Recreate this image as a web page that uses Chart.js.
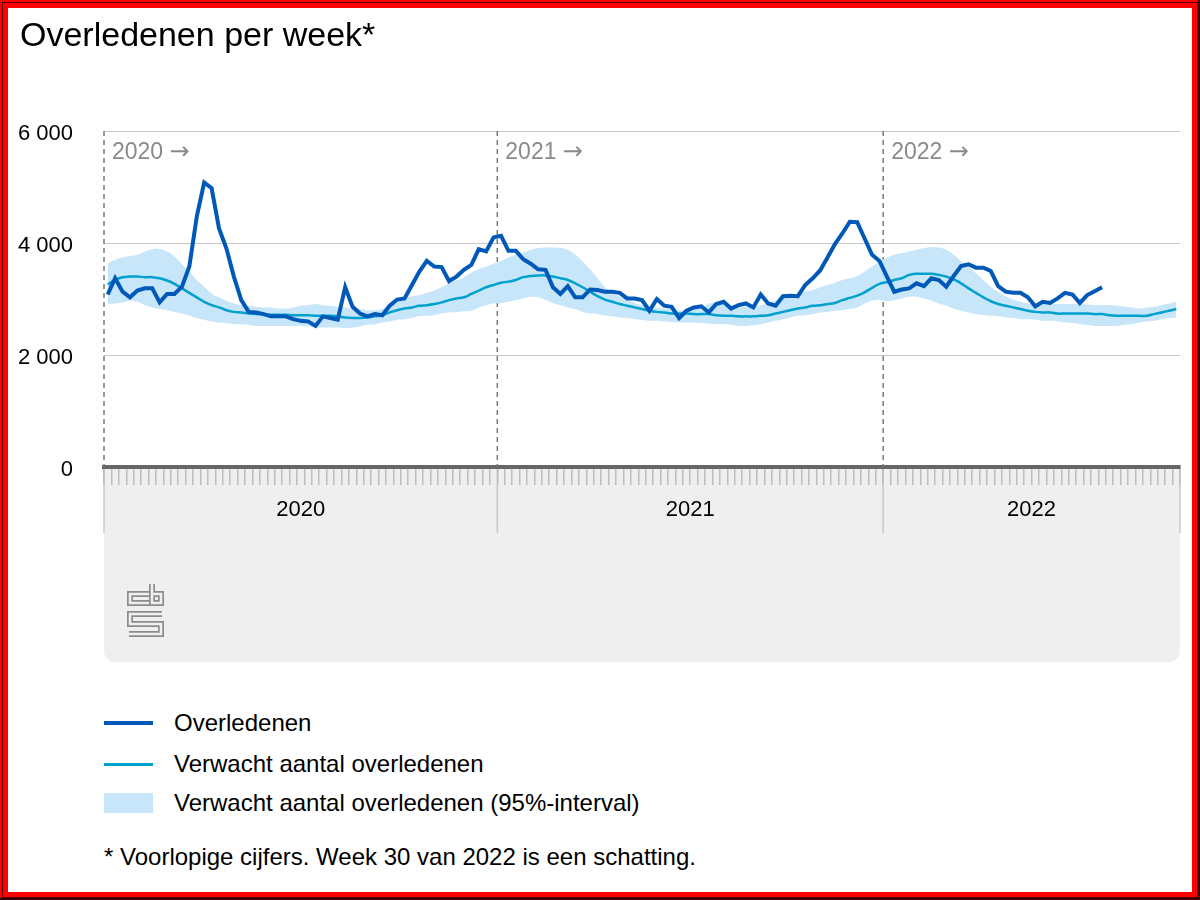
<!DOCTYPE html>
<html>
<head>
<meta charset="utf-8">
<script src="https://cdn.jsdelivr.net/npm/chart.js@4/dist/chart.umd.min.js"></script>
<style>
  body { margin: 0; background: #fff; font-family: "Liberation Sans", Arial, sans-serif; color: #000; }
  #frame {
    position: relative; width: 1200px; height: 900px; overflow: hidden;
    box-shadow: inset -2px -2px 0 0 #3a0000, inset 0 0 0 2px #f00, inset 0 0 0 3px #500, inset 0 0 0 8px #f00;
  }
  #chart { position: absolute; left: 0; top: 0; }
  .title { position: absolute; left: 20px; top: 14px; font-size: 34px; line-height: 40px; white-space: nowrap; }
  .row { position: absolute; left: 104px; height: 40px; display: flex; align-items: center; font-size: 24px; white-space: nowrap; }
  .swatch { width: 49px; margin-right: 21px; }
  .note { position: absolute; left: 104px; top: 837px; font-size: 24px; line-height: 40px; white-space: nowrap; }
</style>
</head>
<body>
<div id="frame">
  <canvas id="chart" width="1200" height="700"></canvas>
  <div class="title">Overledenen per week*</div>
  <div class="row" style="top:703px"><span class="swatch" style="height:4px;background:#0058b8"></span>Overledenen</div>
  <div class="row" style="top:744px"><span class="swatch" style="height:3px;background:#00a1cd"></span>Verwacht aantal overledenen</div>
  <div class="row" style="top:783px"><span class="swatch" style="height:20px;background:#c7e6fa"></span>Verwacht aantal overledenen (95%-interval)</div>
  <div class="note">* Voorlopige cijfers. Week 30 van 2022 is een schatting.</div>
</div>
<script>
// weeks shown per year (2020 has 53 weeks, 2022 runs to week 40)
const years = ['2020', '2021', '2022'];
const weeksPerYear = [53, 52, 40];

// Overledenen (up to 2022 week 30)
const deaths = [
  3080, 3370, 3130, 3030, 3150, 3190, 3190, 2940, 3090, 3090, 3220, 3580, 4470, 5080, 4980, 4260, 3900, 3400, 2980, 2770, 2760, 2730, 2690, 2690, 2690, 2640, 2610,
  2600, 2520, 2690, 2660, 2630, 3210, 2860, 2740, 2690, 2730, 2710, 2880, 2990, 3010, 3250, 3490, 3680, 3580, 3570, 3320, 3400, 3520, 3610, 3890, 3850, 4100, 4130,
  3860, 3860, 3710, 3630, 3530, 3520, 3210, 3090, 3230, 3030, 3030, 3170, 3160, 3130, 3130, 3110, 3010, 3010, 2980, 2790, 3000, 2880, 2860, 2660, 2790, 2850, 2870,
  2760, 2910, 2950, 2830, 2890, 2920, 2850, 3080, 2920, 2880, 3050, 3060, 3050, 3250, 3370, 3510, 3740, 3980, 4170, 4380, 4370, 4080, 3790, 3680,
  3400, 3130, 3170, 3190, 3280, 3230, 3370, 3340, 3220, 3410, 3590, 3620, 3560, 3560, 3500, 3230, 3130, 3110, 3110, 3030, 2870, 2950, 2930, 3010, 3110, 3080, 2930, 3070, 3140, 3210
];

// Verwacht aantal overledenen
const expected = [
  3260, 3340, 3390, 3400, 3400, 3390, 3390, 3370, 3330, 3270, 3190, 3110, 3030, 2950, 2890, 2850, 2800, 2770, 2760, 2740, 2730, 2730, 2720, 2720, 2720, 2710, 2710,
  2710, 2700, 2700, 2700, 2690, 2670, 2660, 2660, 2670, 2690, 2710, 2760, 2800, 2830, 2850, 2880, 2890, 2910, 2940, 2980, 3010, 3030, 3090, 3150, 3210, 3250, 3290,
  3310, 3340, 3390, 3410, 3420, 3420, 3400, 3370, 3340, 3280, 3210, 3130, 3050, 2990, 2950, 2910, 2880, 2850, 2820, 2790, 2770, 2760, 2740, 2740, 2740, 2730, 2730,
  2730, 2710, 2700, 2700, 2690, 2690, 2690, 2700, 2710, 2740, 2770, 2800, 2830, 2850, 2880, 2890, 2910, 2930, 2980, 3020, 3060, 3120, 3200, 3270,
  3300, 3340, 3370, 3430, 3450, 3450, 3450, 3430, 3400, 3350, 3280, 3190, 3110, 3030, 2960, 2910, 2880, 2850, 2820, 2790, 2770, 2760, 2760, 2740, 2740, 2740, 2740, 2740, 2730, 2730,
  2710, 2700, 2700, 2700, 2700, 2700, 2730, 2760, 2790, 2820
];

// 95%-interval, upper and lower bound
const upper = [
  3630, 3700, 3740, 3770, 3790, 3850, 3890, 3890, 3850, 3760, 3620, 3490, 3340, 3220, 3100, 3030, 2970, 2920, 2890, 2880, 2860, 2850, 2850, 2830, 2830, 2850, 2880,
  2890, 2910, 2890, 2880, 2860, 2850, 2830, 2820, 2800, 2800, 2820, 2890, 2950, 3010, 3050, 3070, 3110, 3150, 3210, 3280, 3330, 3390, 3470, 3530, 3580, 3630, 3680,
  3740, 3790, 3830, 3880, 3910, 3920, 3920, 3910, 3880, 3790, 3670, 3530, 3370, 3210, 3110, 3040, 2980, 2930, 2890, 2860, 2850, 2830, 2820, 2800, 2800, 2830, 2850,
  2920, 2930, 2930, 2890, 2880, 2860, 2860, 2890, 2930, 2970, 3010, 3050, 3100, 3130, 3160, 3210, 3250, 3290, 3340, 3370, 3410, 3490, 3580, 3670,
  3740, 3790, 3820, 3850, 3880, 3910, 3930, 3920, 3880, 3790, 3680, 3580, 3460, 3340, 3220, 3130, 3050, 2990, 2950, 2920, 2910, 2910, 2910, 2910, 2910, 2910, 2910, 2900, 2890, 2890,
  2890, 2880, 2860, 2850, 2830, 2850, 2860, 2890, 2920, 2950
];
const lower = [
  2910, 2920, 2940, 2970, 2950, 2890, 2850, 2820, 2800, 2770, 2740, 2700, 2660, 2630, 2600, 2580, 2570, 2550, 2550, 2540, 2520, 2520, 2520, 2520, 2520, 2520, 2520,
  2510, 2490, 2490, 2490, 2490, 2480, 2490, 2510, 2540, 2550, 2580, 2600, 2630, 2640, 2660, 2690, 2700, 2710, 2740, 2760, 2770, 2780, 2790, 2850, 2890, 2920, 2930,
  2950, 2980, 3010, 3040, 3030, 2980, 2930, 2890, 2850, 2820, 2770, 2740, 2730, 2700, 2690, 2670, 2660, 2640, 2630, 2610, 2610, 2600, 2590, 2580, 2580, 2580, 2570,
  2560, 2555, 2550, 2540, 2520, 2520, 2530, 2550, 2580, 2610, 2640, 2670, 2700, 2710, 2730, 2760, 2770, 2790, 2800, 2820, 2850, 2920, 2970, 2980,
  2960, 2980, 3010, 3040, 3040, 3010, 2970, 2920, 2880, 2830, 2790, 2760, 2730, 2710, 2700, 2690, 2670, 2660, 2640, 2640, 2630, 2610, 2610, 2600, 2580, 2570, 2550, 2540, 2520, 2520,
  2520, 2520, 2540, 2550, 2580, 2600, 2610, 2640, 2660, 2670
];

const labels = [];
years.forEach((y, k) => {
  for (let w = 1; w <= weeksPerYear[k]; w++) labels.push(y + ' week ' + w);
});

const FONT = '"Liberation Sans", Arial, sans-serif';

// pixel positions of the year boundaries on the x axis
function yearEdges(x) {
  const edges = [x.left];
  let k = 0;
  weeksPerYear.forEach(n => {
    k += n;
    edges.push(k < labels.length ? (x.getPixelForValue(k - 1) + x.getPixelForValue(k)) / 2 : x.right);
  });
  return edges;
}

const decor = {
  id: 'decor',
  beforeDraw(chart) {
    const { ctx, chartArea: a, scales: { x } } = chart;
    const left = x.left, right = x.right, top = a.bottom, bottom = 662, r = 11;
    ctx.save();
    ctx.fillStyle = '#efefef';
    ctx.beginPath();
    ctx.moveTo(left, top);
    ctx.lineTo(right, top);
    ctx.lineTo(right, bottom - r);
    ctx.arcTo(right, bottom, right - r, bottom, r);
    ctx.lineTo(left + r, bottom);
    ctx.arcTo(left, bottom, left, bottom - r, r);
    ctx.closePath();
    ctx.fill();
    // year separators in the axis band
    ctx.strokeStyle = '#c8c8c8';
    ctx.lineWidth = 1.5;
    yearEdges(x).forEach(px => {
      ctx.beginPath();
      ctx.moveTo(px, top);
      ctx.lineTo(px, 533);
      ctx.stroke();
    });
    ctx.restore();
  },
  beforeDatasetsDraw(chart) {
    const { ctx, chartArea: a, scales: { x } } = chart;
    ctx.save();
    ctx.strokeStyle = '#7a7a7a';
    ctx.lineWidth = 1.5;
    ctx.setLineDash([5, 4]);
    yearEdges(x).slice(0, years.length).forEach(px => {
      ctx.beginPath();
      ctx.moveTo(px, a.top);
      ctx.lineTo(px, a.bottom);
      ctx.stroke();
    });
    ctx.restore();
  },
  afterDraw(chart) {
    const { ctx, chartArea: a, scales: { x } } = chart;
    const edges = yearEdges(x);
    ctx.save();
    ctx.textBaseline = 'middle';
    years.forEach((y, k) => {
      // "2020 →" markers at the top of each year
      ctx.fillStyle = '#8a8a8a';
      ctx.textAlign = 'left';
      ctx.font = '23px ' + FONT;
      const yearText = y + ' ';
      ctx.fillText(yearText, edges[k] + 8, a.top + 22);
      const w = ctx.measureText(yearText).width;
      ctx.font = '24px "DejaVu Sans", sans-serif';
      ctx.fillText('\u2192', edges[k] + 8 + w, a.top + 22);
      // year labels under the axis
      ctx.fillStyle = '#000';
      ctx.font = '22px ' + FONT;
      ctx.textAlign = 'center';
      ctx.fillText(y, (edges[k] + edges[k + 1]) / 2, 510);
    });
    // CBS logo
    ctx.translate(127, 583);
    ctx.lineJoin = 'miter';
    ctx.lineCap = 'butt';
    const shapes = [
      [[22, 11], [3, 11], [3, 20], [22, 20]],
      [[25, 1], [25, 20], [34, 20], [34, 11], [25, 11]],
      [[35, 31], [3, 31], [3, 41], [34, 41], [34, 51], [2, 51]]
    ];
    [['#8c8c8c', 6], ['#efefef', 2.6]].forEach(([col, w]) => {
      ctx.strokeStyle = col;
      ctx.lineWidth = w;
      shapes.forEach(pts => {
        ctx.beginPath();
        pts.forEach(([px, py], i) => i ? ctx.lineTo(px, py) : ctx.moveTo(px, py));
        ctx.stroke();
      });
    });
    ctx.restore();
  }
};

new Chart(document.getElementById('chart'), {
  type: 'line',
  data: {
    labels: labels,
    datasets: [
      {
        label: 'Overledenen',
        data: deaths,
        borderColor: '#0058b8',
        borderWidth: 4,
        tension: 0,
        order: 1
      },
      {
        label: 'Verwacht aantal overledenen',
        data: expected,
        borderColor: '#00a1cd',
        borderWidth: 2.5,
        tension: 0.4,
        order: 2
      },
      {
        label: 'Verwacht aantal overledenen (95%-interval)',
        data: upper,
        borderWidth: 0,
        borderColor: 'rgba(0,0,0,0)',
        backgroundColor: '#c7e6fa',
        fill: '+1',
        tension: 0.4,
        order: 3
      },
      {
        label: 'ondergrens',
        data: lower,
        borderWidth: 0,
        borderColor: 'rgba(0,0,0,0)',
        fill: false,
        tension: 0.4,
        order: 4
      }
    ]
  },
  options: {
    responsive: false,
    animation: false,
    layout: { padding: { top: 131, right: 20, left: 0, bottom: 0 } },
    elements: { point: { radius: 0, hoverRadius: 0 } },
    plugins: { legend: { display: false }, tooltip: { enabled: false } },
    scales: {
      x: {
        type: 'category',
        offset: true,
        ticks: { display: false },
        grid: { offset: true, drawOnChartArea: false, drawTicks: true, tickLength: 18, color: '#bdbdbd', lineWidth: 1.5 },
        border: { display: true, color: '#666666', width: 4 },
        afterFit(s) { s.height = 233; s.paddingLeft = 0; s.paddingRight = 0; }
      },
      y: {
        min: 0,
        max: 6000,
        ticks: {
          stepSize: 2000,
          padding: 31,
          labelOffset: 3,
          color: '#000',
          font: { size: 22, family: FONT },
          callback: v => v === 0 ? '0' : (v / 1000) + ' 000'
        },
        grid: { color: '#c8c8c8', lineWidth: 1, drawTicks: false },
        border: { display: false },
        afterFit(s) { s.width = 104; s.paddingTop = 0; s.paddingBottom = 0; }
      }
    }
  },
  plugins: [decor]
});
</script>
</body>
</html>
